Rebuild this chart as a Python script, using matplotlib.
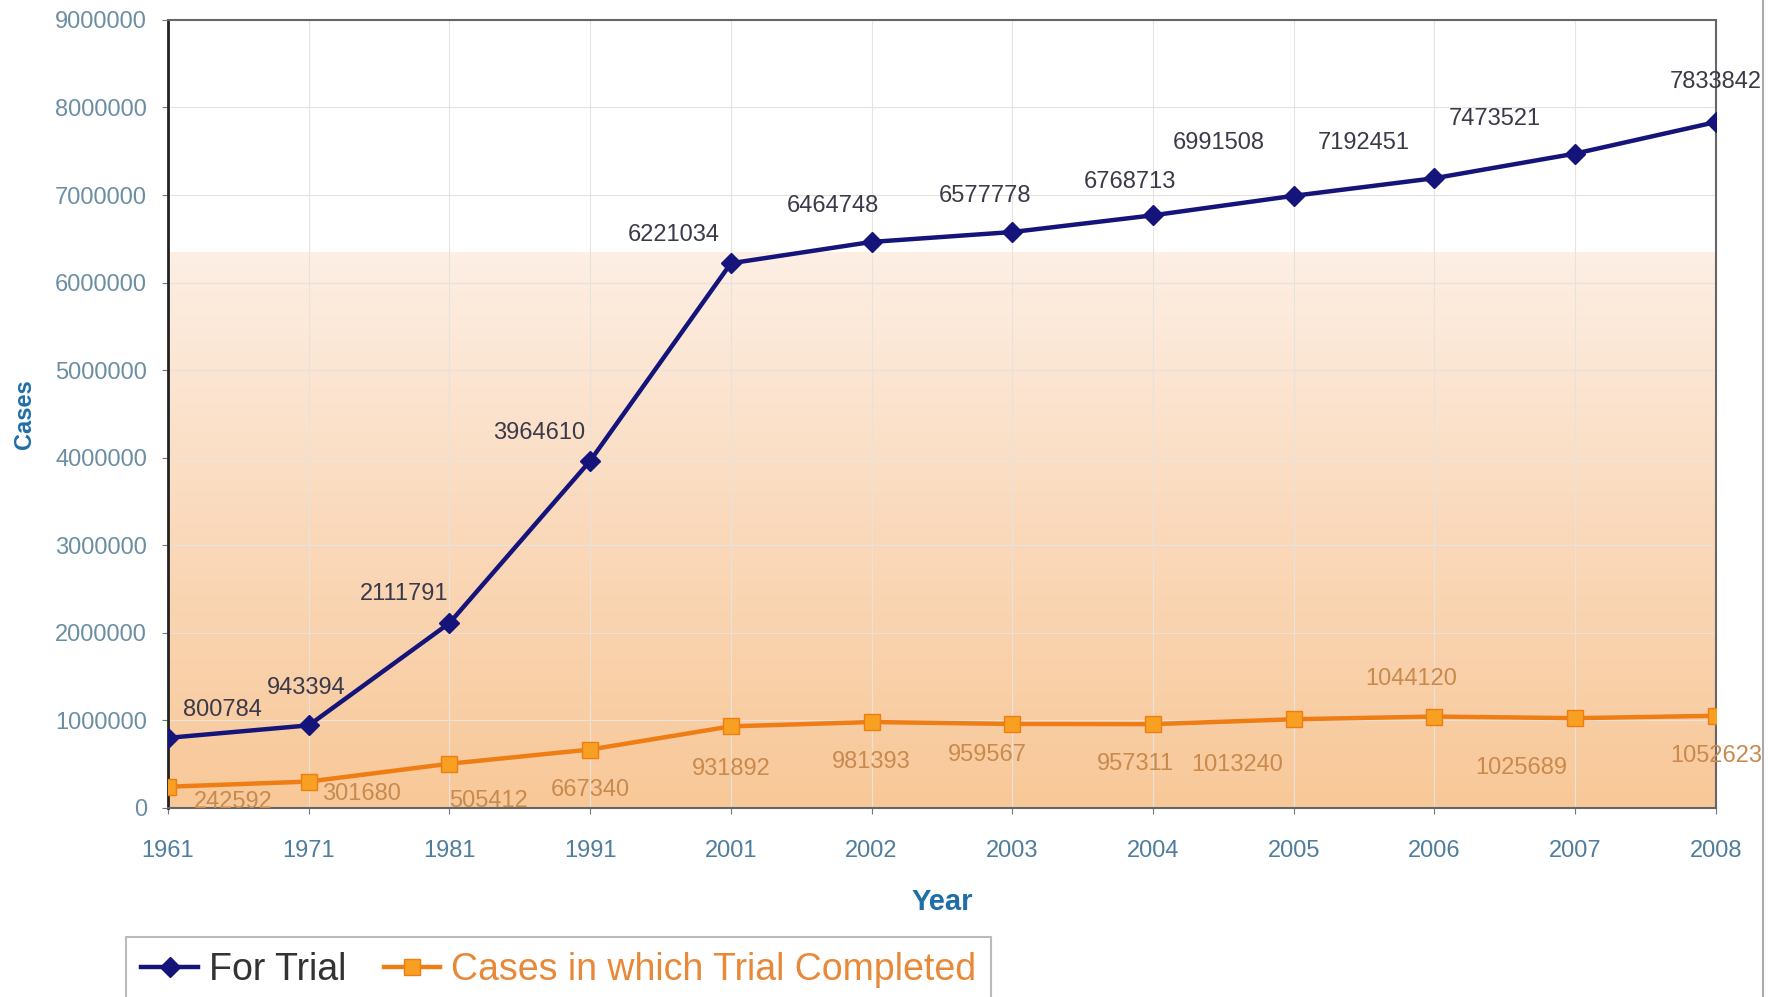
import numpy as np
import matplotlib
matplotlib.use("Agg")
import matplotlib.pyplot as plt
from matplotlib.colors import LinearSegmentedColormap
from matplotlib.lines import Line2D

years = ["1961", "1971", "1981", "1991", "2001", "2002", "2003",
         "2004", "2005", "2006", "2007", "2008"]
for_trial = [800784, 943394, 2111791, 3964610, 6221034, 6464748, 6577778,
             6768713, 6991508, 7192451, 7473521, 7833842]
completed = [242592, 301680, 505412, 667340, 931892, 981393, 959567,
             957311, 1013240, 1044120, 1025689, 1052623]

# label offsets (points) picked to sit like the original
trial_off = [(39, 20), (-2, 27), (-33, 21), (-37, 20), (-41, 20), (-28, 26),
             (-20, 26), (-17, 24), (-54, 38), (-51, 25), (-58, 25), (0, 29)]
comp_off = [(47, -11), (38, -9), (28, -27), (0, -29), (0, -31), (0, -29),
            (-18, -22), (-13, -29), (-41, -33), (-17, 27), (-39, -36), (0, -29)]

NAVY = "#14147a"
ORANGE = "#ee7d14"
FONT = ["Liberation Sans", "DejaVu Sans"]

fig = plt.figure(figsize=(17.8, 9.97), dpi=100)
ax = fig.add_axes([0.0944, 0.1896, 0.8696, 0.7904])

x = np.arange(len(years))
ax.set_xlim(0, len(years) - 1)
ax.set_ylim(0, 9000000)

# peach gradient background (white above ~6.35M)
cmap = LinearSegmentedColormap.from_list("peach", ["#f8c898", "#fad9bb", "#fdefe4"])
grad = np.linspace(0, 1, 256).reshape(-1, 1)
ax.imshow(grad, extent=[0, len(years) - 1, 0, 6350000], origin="lower",
          aspect="auto", cmap=cmap, zorder=0)

ax.grid(True, color="#e8e2dc", linewidth=0.8, zorder=1)
ax.set_axisbelow(True)

ax.plot(x, for_trial, color=NAVY, linewidth=3.2, marker="D", markersize=10,
        markerfacecolor=NAVY, markeredgecolor=NAVY, zorder=4)
ax.plot(x, completed, color=ORANGE, linewidth=3.2, marker="s", markersize=12,
        markerfacecolor="#f7a021", markeredgecolor=ORANGE, zorder=4)

for i in range(len(years)):
    ax.annotate(str(for_trial[i]), (x[i], for_trial[i]), xytext=trial_off[i],
                textcoords="offset points", ha="center", va="center",
                fontsize=17, color="#3a3a4a", family=FONT, zorder=5,
                annotation_clip=False)
    ax.annotate(str(completed[i]), (x[i], completed[i]), xytext=comp_off[i],
                textcoords="offset points", ha="center", va="center",
                fontsize=17, color="#c98a4e", family=FONT, zorder=5,
                annotation_clip=False)

ax.set_xticks(x)
ax.set_xticklabels(years, family=FONT, fontsize=17, color="#4f7d9c")
yt = np.arange(0, 9000001, 1000000)
ax.set_yticks(yt)
ax.set_yticklabels([str(v) for v in yt], family=FONT, fontsize=17, color="#6c8ea3")
ax.tick_params(length=4, color="#777777")
ax.tick_params(axis="x", pad=19)
ax.tick_params(axis="y", pad=11)

for s in ax.spines.values():
    s.set_color("#666666")
    s.set_linewidth(1.5)
ax.spines["left"].set_color("#222222")
ax.spines["left"].set_linewidth(2)

ax.set_xlabel("Year", fontsize=21, fontweight="bold", color="#1f6ea8",
              family=FONT, labelpad=19)
ax.set_ylabel("Cases", fontsize=17, fontweight="bold", color="#1f6ea8",
              family=FONT, labelpad=14)

handles = [
    Line2D([], [], color=NAVY, linewidth=3.2, marker="D", markersize=10),
    Line2D([], [], color=ORANGE, linewidth=3.2, marker="s", markersize=12,
           markerfacecolor="#f7a021", markeredgecolor=ORANGE),
]
leg = fig.legend(handles, ["For Trial", "Cases in which Trial Completed"],
                 loc="upper left", bbox_to_anchor=(0.071, 0.06), ncol=2,
                 borderaxespad=0, frameon=True, fancybox=False,
                 edgecolor="#aaaaaa", handlelength=1.5, handletextpad=0.3,
                 columnspacing=1.0, borderpad=0.4,
                 prop={"family": FONT, "size": 27})
leg.get_frame().set_linewidth(1.5)
leg.get_texts()[0].set_color("#333333")
leg.get_texts()[1].set_color("#e8893a")

fig.add_artist(Line2D([0.9905, 0.9905], [0, 1], color="#aaaaaa", linewidth=1.5))

fig.savefig("out.png", dpi=100)
